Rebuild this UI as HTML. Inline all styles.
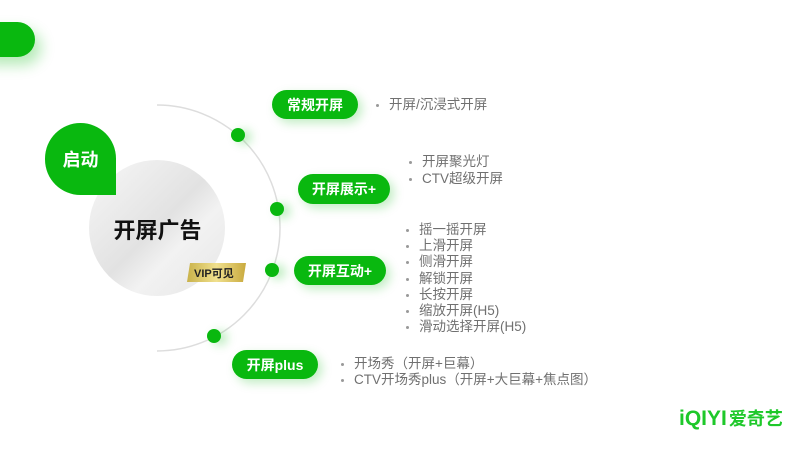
<!DOCTYPE html>
<html><head><meta charset="utf-8"><style>
*{margin:0;padding:0;box-sizing:border-box}
body{width:800px;height:450px;background:#fff;position:relative;overflow:hidden;font-family:"Liberation Sans","Noto Sans CJK SC",sans-serif}
.a{position:absolute}
.pill{position:absolute;background:#09b80f;color:#fff;font-weight:bold;font-size:14px;border-radius:16px;display:flex;align-items:center;justify-content:center;box-shadow:4px 4px 10px rgba(9,184,15,0.25)}
.dot{position:absolute;width:14px;height:14px;border-radius:50%;background:#09b80f;box-shadow:6px 2px 10px rgba(9,184,15,0.3)}
.ls{position:absolute;color:#707070;font-size:13.5px;white-space:nowrap}
.ls div{height:16.2px;line-height:16.2px;position:relative;padding-left:14px}
.ls div:before{content:"";position:absolute;left:1px;top:7px;width:3px;height:3px;border-radius:50%;background:#999}
</style></head><body>
<div class="a" style="left:-20px;top:22px;width:55px;height:35px;background:#09b80f;border-radius:0 18px 18px 0;box-shadow:6px 8px 14px rgba(9,184,15,0.3)"></div>
<svg class="a" style="left:0;top:0" width="800" height="450">
<path d="M157 105 A123 123 0 0 1 157 351" fill="none" stroke="#ddd" stroke-width="1.5"/>
<defs><linearGradient id="g" x1="0" y1="0" x2="1" y2="1"><stop offset="0" stop-color="#f7f7f7"/><stop offset="0.5" stop-color="#e2e2e2"/><stop offset="0.65" stop-color="#f2f2f2"/><stop offset="1" stop-color="#e6e6e6"/></linearGradient>
<linearGradient id="gold" x1="0" x2="1"><stop offset="0" stop-color="#c9b24a"/><stop offset="0.5" stop-color="#f0e08e"/><stop offset="1" stop-color="#c9aa3e"/></linearGradient></defs>
<circle cx="157" cy="228" r="68" fill="url(#g)"/>
<polygon points="190,263 246,263 243,282 187,282" fill="url(#gold)"/>
</svg>
<div class="a" style="left:45px;top:123px;width:71px;height:72px;background:#09b80f;border-radius:36px 36px 0 36px;color:#fff;font-size:18px;font-weight:bold;display:flex;align-items:center;justify-content:center">启动</div>
<div class="a" style="left:90px;top:213px;width:135px;text-align:center;font-size:22px;font-weight:bold;color:#111">开屏广告</div>
<div class="a" style="left:194px;top:265px;font-size:11px;font-weight:bold;color:#222">VIP可见</div>
<div class="dot" style="left:231px;top:128px"></div>
<div class="dot" style="left:270px;top:202px"></div>
<div class="dot" style="left:265px;top:263px"></div>
<div class="dot" style="left:207px;top:329px"></div>
<div class="pill" style="left:272px;top:90px;width:86px;height:29px">常规开屏</div>
<div class="pill" style="left:298px;top:174px;width:92px;height:30px">开屏展示+</div>
<div class="pill" style="left:294px;top:256px;width:92px;height:29px">开屏互动+</div>
<div class="pill" style="left:232px;top:350px;width:86px;height:29px">开屏plus</div>
<div class="ls" style="left:375px;top:97px"><div>开屏/沉浸式开屏</div></div>
<div class="ls" style="left:408px;top:154px"><div style="height:17px">开屏聚光灯</div><div>CTV超级开屏</div></div>
<div class="ls" style="left:405px;top:222px"><div>摇一摇开屏</div><div>上滑开屏</div><div>侧滑开屏</div><div>解锁开屏</div><div>长按开屏</div><div>缩放开屏(H5)</div><div>滑动选择开屏(H5)</div></div>
<div class="ls" style="left:340px;top:356px"><div>开场秀（开屏+巨幕）</div><div>CTV开场秀plus（开屏+大巨幕+焦点图）</div></div>
<div class="a" style="left:679px;top:406px;color:#1ec82a;font-size:21px;font-weight:bold;line-height:26px">iQIYI<span style="font-size:18px;margin-left:2px">爱奇艺</span></div>
</body></html>
